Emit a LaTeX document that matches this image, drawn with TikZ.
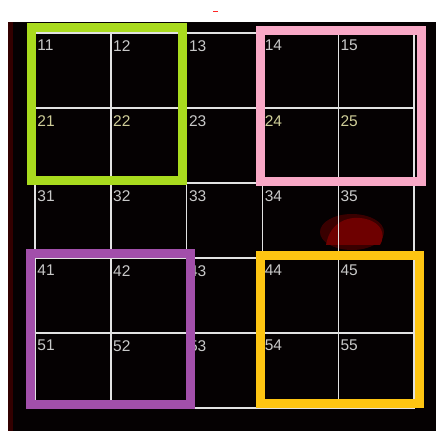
\documentclass[tikz,border=0pt]{standalone}
\usepackage{fontspec}
\newfontfamily\cellfont{Liberation Sans}
\usetikzlibrary{positioning}
\definecolor{screen}{HTML}{050102}
\definecolor{gridline}{HTML}{E2E2E2}
\definecolor{numgray}{HTML}{C8C8C8}
\definecolor{numyellow}{HTML}{CFCD98}
\definecolor{limegreen}{HTML}{A9DB1E}
\definecolor{softpink}{HTML}{F9A8C6}
\definecolor{violet}{HTML}{A24FAA}
\definecolor{amber}{HTML}{FEC512}
\definecolor{glow}{HTML}{6E0000}
\tikzset{
  cell/.style 2 args={rectangle, draw=gridline, line width=1.4pt, minimum width=75.8pt, minimum height=75pt, inner sep=0pt, outer sep=0pt,
    label={[name=n#1, anchor=north west, xshift=2.2pt, yshift=-7pt, inner sep=0pt, text=#2, font=\cellfont\fontsize{15.5}{16}\selectfont]north west:#1}},
  frame/.style={line width=9pt, draw=#1}
}

\begin{document}
\begin{tikzpicture}[x=1pt, y=1pt]

  \useasboundingbox (0,0) rectangle (436,431);
  \fill[white] (0,0) rectangle (436,431);
  \fill[screen] (8,0) rectangle (436,409);
  \fill[red!20!black] (8,0) rectangle (13,409);
  \fill[red!85] (213,418.5) rectangle (218,420);
  % reddish glare behind cell 35
  \fill[glow, opacity=0.5] (352,199) ellipse [x radius=32pt, y radius=18pt];
  \fill[glow] (326,186) .. controls (330,210) and (350,216) .. (366,212)
    .. controls (382,208) and (386,196) .. (380,186) -- cycle;

  \node (c11) [cell={11}{numgray}] at (72.9,360.5) {};
  \node (c12) [cell={12}{numgray}, right=0pt of c11] {};
  \node (c13) [cell={13}{numgray}, right=0pt of c12] {};
  \node (c14) [cell={14}{numgray}, right=0pt of c13] {};
  \node (c15) [cell={15}{numgray}, right=0pt of c14] {};
  \node (c21) [cell={21}{numyellow}, below=0pt of c11] {};
  \node (c22) [cell={22}{numyellow}, right=0pt of c21] {};
  \node (c23) [cell={23}{numgray}, right=0pt of c22] {};
  \node (c24) [cell={24}{numyellow}, right=0pt of c23] {};
  \node (c25) [cell={25}{numyellow}, right=0pt of c24] {};
  \node (c31) [cell={31}{numgray}, below=0pt of c21] {};
  \node (c32) [cell={32}{numgray}, right=0pt of c31] {};
  \node (c33) [cell={33}{numgray}, right=0pt of c32] {};
  \node (c34) [cell={34}{numgray}, right=0pt of c33] {};
  \node (c35) [cell={35}{numgray}, right=0pt of c34] {};
  \node (c41) [cell={41}{numgray}, below=0pt of c31] {};
  \node (c42) [cell={42}{numgray}, right=0pt of c41] {};
  \node (c43) [cell={43}{numgray}, right=0pt of c42] {};
  \node (c44) [cell={44}{numgray}, right=0pt of c43] {};
  \node (c45) [cell={45}{numgray}, right=0pt of c44] {};
  \node (c51) [cell={51}{numgray}, below=0pt of c41] {};
  \node (c52) [cell={52}{numgray}, right=0pt of c51] {};
  \node (c53) [cell={53}{numgray}, right=0pt of c52] {};
  \node (c54) [cell={54}{numgray}, right=0pt of c53] {};
  \node (c55) [cell={55}{numgray}, right=0pt of c54] {};

  \draw [frame=limegreen] (31.5,250.5) rectangle (182.5,403);
  \draw [frame=softpink] (260.5,249) rectangle (421,400.5);
  \draw [frame=violet] (30,26.5) rectangle (190.5,177.5);
  \draw [frame=amber] (260.5,28) rectangle (419.5,175.5);

\end{tikzpicture}
\end{document}
